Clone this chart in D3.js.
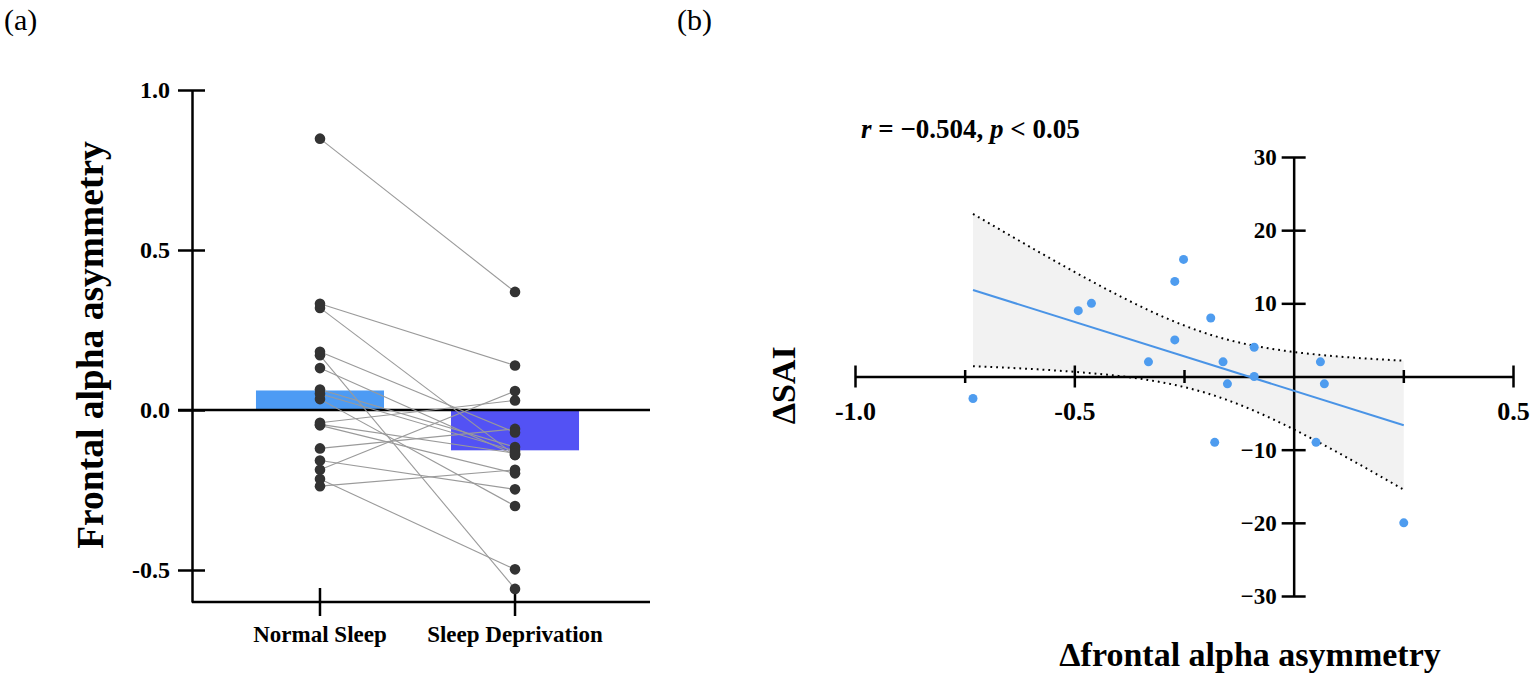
<!DOCTYPE html>
<html>
<head>
<meta charset="utf-8">
<script src="https://cdn.jsdelivr.net/npm/d3@7"></script>
<style>
  body { margin: 0; background: #fff; }
  svg { display: block; font-family: "Liberation Serif", "Times New Roman", serif; }
</style>
</head>
<body>
<svg id="chart" width="1535" height="676"></svg>
<script>
// panel (a): frontal alpha asymmetry per subject
const groups = ['Normal Sleep', 'Sleep Deprivation'];
const groupMeans = [0.061, -0.126];
const normalSleep = [0.848, 0.171, 0.319, 0.332, 0.034, -0.216, -0.187, -0.120, -0.040, -0.238, -0.158, -0.048, 0.182, 0.131, 0.064, 0.051, -0.045];
const sleepDeprivation = [0.369, -0.559, -0.141, 0.139, -0.300, -0.498, 0.059, -0.059, 0.030, -0.187, -0.248, -0.198, -0.070, -0.140, -0.116, -0.128, -0.135];
const yTicksA = [-0.5, 0.0, 0.5, 1.0];

// panel (b): change scores
const deltaFaa = [-0.731, -0.491, -0.461, -0.331, -0.271, -0.251, -0.271, -0.189, -0.161, -0.151, -0.180, -0.090, -0.090, 0.061, 0.070, 0.051, 0.251];
const deltaSai = [-3, 9, 10, 2, 13, 16, 5, 8, 2, -1, -9, 4, 0, 2, -1, -9, -20];
const xMajorB = [-1.0, -0.5, 0.5];
const xMinorB = [-0.75, -0.25, 0.25];
const yTicksB = [-30, -20, -10, 10, 20, 30];
const tCrit = 2.131; // t(0.975, df = 15)

const svg = d3.select('#chart');
const ink = '#000';

// ---------- panel (a) ----------
const yA = d3.scaleLinear().domain([-0.6, 1.0]).range([602, 90]);
const xA = d3.scaleBand()
    .domain(groups)
    .range([192, 643])
    .paddingInner(0.3436)
    .paddingOuter(0.328);
const axisLeftX = 192;
const axisRightX = 650;

const gA = svg.append('g');

// bars
gA.selectAll('.bar')
    .data(groups)
    .enter()
    .append('rect')
    .attr('class', 'bar')
    .attr('x', d => xA(d))
    .attr('width', xA.bandwidth())
    .attr('y', (d, i) => Math.min(yA(groupMeans[i]), yA(0)))
    .attr('height', (d, i) => Math.abs(yA(groupMeans[i]) - yA(0)))
    .attr('fill', (d, i) => i === 0 ? '#4d9bf4' : '#5352f4');

// zero line
gA.append('line')
    .attr('x1', axisLeftX - 14).attr('x2', axisRightX)
    .attr('y1', yA(0)).attr('y2', yA(0))
    .attr('stroke', ink).attr('stroke-width', 2.5);

// y axis
const yAxisA = gA.append('g')
    .attr('transform', `translate(${axisLeftX},0)`)
    .call(d3.axisLeft(yA).tickValues(yTicksA).tickFormat(d => d.toFixed(1)).tickSizeOuter(0));
yAxisA.select('.domain').attr('stroke', ink).attr('stroke-width', 2.5);
yAxisA.selectAll('.tick line').attr('x1', -14).attr('x2', 13).attr('stroke-width', 2.5);
yAxisA.selectAll('.tick text')
    .attr('x', -22)
    .attr('font-size', 24)
    .attr('font-weight', 'bold')
    .attr('font-family', '"Liberation Serif", serif')
    .attr('fill', ink);

// x axis
const xAxisA = gA.append('g')
    .attr('transform', `translate(0,${yA(-0.6)})`)
    .call(d3.axisBottom(xA).tickSizeOuter(0));
xAxisA.select('.domain').remove();
xAxisA.append('line')
    .attr('x1', axisLeftX).attr('x2', axisRightX)
    .attr('stroke', ink).attr('stroke-width', 2.5);
xAxisA.selectAll('.tick line').attr('y1', -14).attr('y2', 14).attr('stroke-width', 2.5);
xAxisA.selectAll('.tick text')
    .attr('y', 40)
    .attr('dy', 0)
    .attr('font-size', 23)
    .attr('font-weight', 'bold')
    .attr('font-family', '"Liberation Serif", serif')
    .attr('fill', ink);

// paired lines
const cx0 = xA(groups[0]) + xA.bandwidth() / 2;
const cx1 = xA(groups[1]) + xA.bandwidth() / 2;
gA.selectAll('.pair')
    .data(normalSleep)
    .enter()
    .append('line')
    .attr('class', 'pair')
    .attr('x1', cx0).attr('y1', d => yA(d))
    .attr('x2', cx1).attr('y2', (d, i) => yA(sleepDeprivation[i]))
    .attr('stroke', '#9a9a9a')
    .attr('stroke-width', 1.1);

gA.selectAll('.ns')
    .data(normalSleep)
    .enter()
    .append('circle')
    .attr('cx', cx0).attr('cy', d => yA(d)).attr('r', 5.3)
    .attr('fill', '#333');
gA.selectAll('.sd')
    .data(sleepDeprivation)
    .enter()
    .append('circle')
    .attr('cx', cx1).attr('cy', d => yA(d)).attr('r', 5.3)
    .attr('fill', '#333');

// y title
gA.append('text')
    .attr('transform', `translate(103, ${(yA(1.0) + yA(-0.6)) / 2 - 1}) rotate(-90)`)
    .attr('text-anchor', 'middle')
    .attr('font-size', 37.5)
    .attr('font-weight', 'bold')
    .text('Frontal alpha asymmetry');

svg.append('text')
    .attr('x', 4).attr('y', 30)
    .attr('font-size', 30)
    .text('(a)');

// ---------- panel (b) ----------
const xB = d3.scaleLinear().domain([-1.0, 0.5]).range([855, 1513]);
const yB = d3.scaleLinear().domain([-30, 30]).range([596, 157]);
const gB = svg.append('g');

// regression and confidence band
const n = deltaFaa.length;
const mx = d3.mean(deltaFaa);
const my = d3.mean(deltaSai);
const sxx = d3.sum(deltaFaa, d => (d - mx) * (d - mx));
const sxy = d3.sum(deltaFaa, (d, i) => (d - mx) * (deltaSai[i] - my));
const slope = sxy / sxx;
const intercept = my - slope * mx;
const resid = d3.sum(deltaFaa, (d, i) => Math.pow(deltaSai[i] - (intercept + slope * d), 2));
const se = Math.sqrt(resid / (n - 2));
const [xLo, xHi] = d3.extent(deltaFaa);
const samples = d3.range(0, 81).map(k => xLo + (xHi - xLo) * k / 80);
const band = samples.map(x => {
    const fit = intercept + slope * x;
    const hw = tCrit * se * Math.sqrt(1 / n + (x - mx) * (x - mx) / sxx);
    return { x, fit, lo: fit - hw, hi: fit + hw };
});

gB.append('path')
    .datum(band)
    .attr('d', d3.area().x(d => xB(d.x)).y0(d => yB(d.lo)).y1(d => yB(d.hi)))
    .attr('fill', '#f2f2f2');

['lo', 'hi'].forEach(key => {
    gB.append('path')
        .datum(band)
        .attr('d', d3.line().x(d => xB(d.x)).y(d => yB(d[key])))
        .attr('fill', 'none')
        .attr('stroke', ink)
        .attr('stroke-width', 2)
        .attr('stroke-dasharray', '1.8 4');
});

// x axis
const xAxisB = gB.append('g')
    .attr('transform', `translate(0,${yB(0)})`)
    .call(d3.axisBottom(xB).tickValues(xMajorB).tickFormat(d => d.toFixed(1)).tickSizeOuter(0));
xAxisB.select('.domain').attr('stroke', ink).attr('stroke-width', 2.5);
xAxisB.selectAll('.tick line').attr('y1', -11).attr('y2', 11).attr('stroke-width', 2.5);
xAxisB.selectAll('.tick text')
    .attr('y', 43)
    .attr('dy', 0)
    .attr('font-size', 26)
    .attr('font-weight', 'bold')
    .attr('font-family', '"Liberation Serif", serif')
    .attr('fill', ink);
const xMinorAxis = gB.append('g')
    .attr('transform', `translate(0,${yB(0)})`)
    .call(d3.axisBottom(xB).tickValues(xMinorB).tickFormat('').tickSizeOuter(0));
xMinorAxis.select('.domain').remove();
xMinorAxis.selectAll('.tick line').attr('y1', -6.5).attr('y2', 6.5).attr('stroke-width', 2.5);

// y axis
const yAxisB = gB.append('g')
    .attr('transform', `translate(${xB(0)},0)`)
    .call(d3.axisLeft(yB).tickValues(yTicksB).tickSizeOuter(0));
yAxisB.select('.domain').attr('stroke', ink).attr('stroke-width', 2.5);
yAxisB.selectAll('.tick line').attr('x1', -12).attr('x2', 12).attr('stroke-width', 2.5);
yAxisB.selectAll('.tick text')
    .attr('x', -17)
    .attr('font-size', 23)
    .attr('font-weight', 'bold')
    .attr('font-family', '"Liberation Serif", serif')
    .attr('fill', ink);

// fitted line
gB.append('line')
    .attr('x1', xB(xLo)).attr('y1', yB(intercept + slope * xLo))
    .attr('x2', xB(xHi)).attr('y2', yB(intercept + slope * xHi))
    .attr('stroke', '#4a94e6')
    .attr('stroke-width', 2);

// points
gB.selectAll('.pt')
    .data(deltaFaa)
    .enter()
    .append('circle')
    .attr('class', 'pt')
    .attr('cx', d => xB(d))
    .attr('cy', (d, i) => yB(deltaSai[i]))
    .attr('r', 4.5)
    .attr('fill', '#4e9cef');

// labels
const stat = gB.append('text')
    .attr('x', 861).attr('y', 138)
    .attr('font-size', 27)
    .attr('font-weight', 'bold');
stat.append('tspan').attr('font-style', 'italic').text('r');
stat.append('tspan').text(' = \u22120.504, ');
stat.append('tspan').attr('font-style', 'italic').text('p');
stat.append('tspan').text(' < 0.05');

gB.append('text')
    .attr('transform', `translate(795, ${yB(-1.2)}) rotate(-90)`)
    .attr('text-anchor', 'middle')
    .attr('font-size', 34)
    .attr('font-weight', 'bold')
    .text('\u0394SAI');

gB.append('text')
    .attr('x', 1250).attr('y', 666)
    .attr('text-anchor', 'middle')
    .attr('font-size', 34)
    .attr('font-weight', 'bold')
    .text('\u0394frontal alpha asymmetry');

svg.append('text')
    .attr('x', 677).attr('y', 30)
    .attr('font-size', 30)
    .text('(b)');
</script>
</body>
</html>
